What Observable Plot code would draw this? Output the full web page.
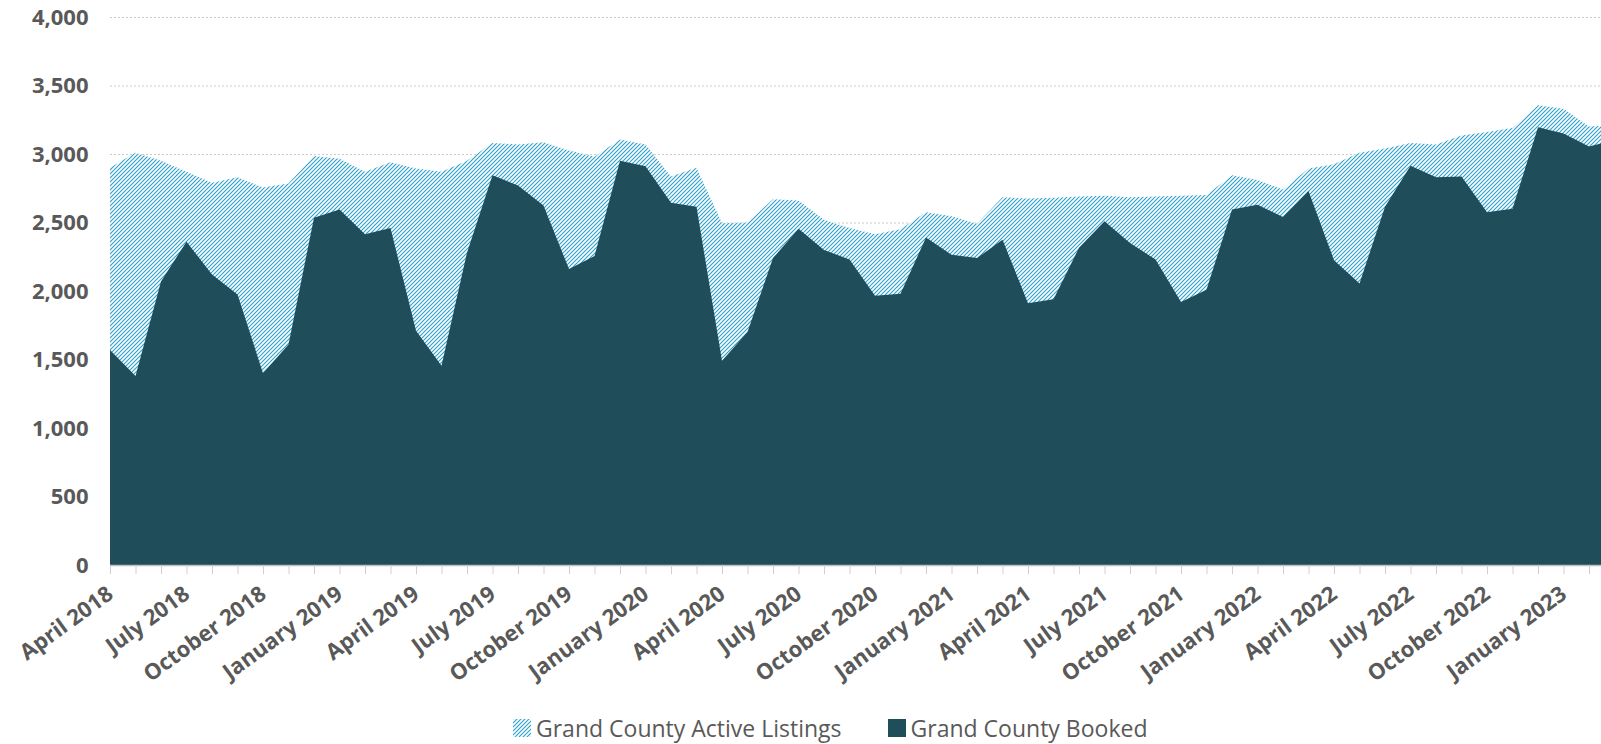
<!DOCTYPE html>
<html>
<head>
<meta charset="utf-8">
<script src="https://cdn.jsdelivr.net/npm/d3@7"></script>
<script src="https://cdn.jsdelivr.net/npm/@observablehq/plot@0.6"></script>
<style>
  body { margin: 0; background: #fff; font-family: "Open Sans", sans-serif; }
  #legend { display: flex; align-items: center; padding-left: 513px; margin-top: 13px; height: 30px; font-size: 23px; color: #595959; white-space: nowrap; }
  #legend .item { display: flex; align-items: center; }
  #legend .sw { width: 18px; height: 18px; margin-right: 5px; display: block; }
</style>
</head>
<body>
<div id="chart"></div>
<div id="legend">
  <div class="item" style="margin-right:46px"><svg class="sw" viewBox="0 0 18 18"><rect width="18" height="18" fill="url(#hatch)"/></svg><span>Grand County Active Listings</span></div>
  <div class="item"><svg class="sw" viewBox="0 0 18 18"><rect width="18" height="18" fill="#1F4E5A"/></svg><span>Grand County Booked</span></div>
</div>
<script>
// Monthly data, April 2018 .. March 2023 (last month partly cut off at the right edge)
const booked = [
  1570, 1380, 2070, 2360, 2120, 1975, 1400, 1610, 2535,
  2595, 2415, 2460, 1710, 1455, 2280, 2845, 2770, 2625, 2160, 2255, 2950,
  2910, 2645, 2615, 1490, 1700, 2240, 2455, 2300, 2230, 1965, 1980, 2390,
  2265, 2240, 2375, 1910, 1940, 2315, 2510, 2350, 2230, 1920, 2010, 2595,
  2630, 2540, 2730, 2225, 2055, 2615, 2915, 2830, 2835, 2575, 2600, 3195,
  3150, 3055, 3100
];
const listings = [
  2900, 3010, 2950, 2870, 2790, 2830, 2755, 2785, 2985,
  2965, 2870, 2940, 2895, 2870, 2950, 3080, 3070, 3085, 3025, 2980, 3105,
  3070, 2835, 2900, 2495, 2500, 2670, 2660, 2520, 2460, 2415, 2450, 2575,
  2545, 2490, 2685, 2675, 2680, 2690, 2695, 2685, 2690, 2695, 2700, 2845,
  2810, 2740, 2895, 2925, 3010, 3040, 3080, 3070, 3135, 3160, 3190, 3355,
  3330, 3200, 3215
];
const tickLabels = [
  "April 2018", "July 2018", "October 2018", "January 2019",
  "April 2019", "July 2019", "October 2019", "January 2020",
  "April 2020", "July 2020", "October 2020", "January 2021",
  "April 2021", "July 2021", "October 2021", "January 2022",
  "April 2022", "July 2022", "October 2022", "January 2023"
];
const yTicks = [0, 500, 1000, 1500, 2000, 2500, 3000, 3500, 4000];

const data = booked.map((b, i) => ({i, booked: b, listings: listings[i]}));
const visibleMonths = 58.47;

const chart = Plot.plot({
  width: 1601,
  height: 700,
  marginLeft: 110,
  marginRight: 0,
  marginTop: 17,
  marginBottom: 135,
  x: {type: "linear", domain: [0, visibleMonths]},
  y: {domain: [0, 4000]},
  style: {fontFamily: '"Open Sans", sans-serif', color: "#595959", background: "#fff"},
  marks: [
    Plot.gridY(yTicks.slice(1), {stroke: "#CCCCCC", strokeOpacity: 1, strokeDasharray: "2,2"}),
    Plot.areaY(data, {x: "i", y: "listings", fill: "url(#hatch)", clip: true}),
    Plot.areaY(data, {x: "i", y: "booked", fill: "#1F4E5A", clip: true}),
    Plot.ruleY([0], {stroke: "#BFBFBF", strokeWidth: 1.5}),
    Plot.axisY({ticks: yTicks, tickSize: 0, tickPadding: 22, tickFormat: d3.format(","),
      fontSize: 22, fontWeight: "bold", fill: "#595959", label: null}),
    Plot.axisX({ticks: d3.range(0, 59), tickSize: 9, tickFormat: () => "", stroke: "#D0D0D0", label: null}),
    Plot.axisX({ticks: d3.range(0, 58, 3), tickSize: 0, tickPadding: 26, tickRotate: -36,
      tickFormat: d => tickLabels[d / 3], fontSize: 22, fontWeight: "bold", fill: "#595959", label: null})
  ]
});

d3.select(chart).insert("defs", ":first-child").html(
  '<pattern id="hatch" patternUnits="userSpaceOnUse" width="4" height="4">' +
  '<rect width="4" height="4" fill="#fff"/>' +
  '<path d="M-1,1 l2,-2 M0,4 l4,-4 M3,5 l2,-2" stroke="#2BA2CA" stroke-width="1.15"/>' +
  '</pattern>'
);
document.getElementById("chart").appendChild(chart);
</script>
</body>
</html>
